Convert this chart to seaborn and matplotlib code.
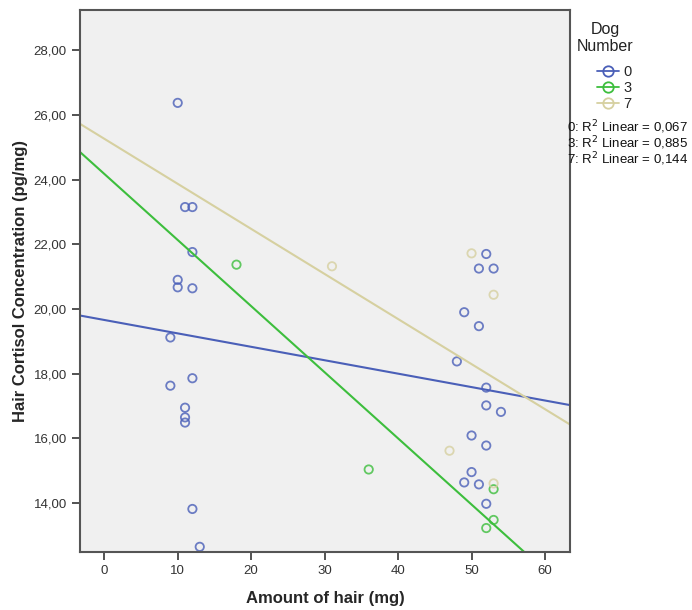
import numpy as np
import pandas as pd
import matplotlib
matplotlib.use('Agg')
import matplotlib.pyplot as plt
from matplotlib.lines import Line2D
import seaborn as sns

# Dane
dog_ids = ['0', '3', '7']
dog_colors = {'0': '#4A5FB8', '3': '#3DBE3D', '7': '#D6D0A0'}
r2_values = [0.067, 0.885, 0.144]

hair_0 = [10, 11, 12, 12, 10, 10, 12, 9, 9, 12, 11, 11, 11, 12, 13,
          52, 51, 53, 49, 51, 48, 52, 52, 54, 50, 52, 50, 49, 51, 52]
cort_0 = [26.37, 23.15, 23.15, 21.76, 20.90, 20.67, 20.64, 19.12, 17.63, 17.86,
          16.95, 16.65, 16.49, 13.82, 12.65,
          21.70, 21.25, 21.25, 19.90, 19.47, 18.38, 17.57, 17.02, 16.82, 16.09,
          15.78, 14.96, 14.64, 14.58, 13.98]
hair_3 = [18, 36, 53, 53, 52]
cort_3 = [21.37, 15.04, 14.43, 13.48, 13.23]
hair_7 = [50, 53, 31, 47, 53]
cort_7 = [21.72, 20.44, 21.32, 15.62, 14.61]

df = pd.DataFrame({
    'Hair': hair_0 + hair_3 + hair_7,
    'Cortisol': cort_0 + cort_3 + cort_7,
    'Dog': ['0'] * len(hair_0) + ['3'] * len(hair_3) + ['7'] * len(hair_7),
})

sns.set_style('white')
plt.rcParams['font.family'] = ['Liberation Sans', 'DejaVu Sans']

fig = plt.figure(figsize=(6.92, 6.10), dpi=100)
ax = fig.add_axes([80 / 692, 58 / 610, 490 / 692, 542 / 610])
ax.set_facecolor('#F0F0F0')
ax.set_xlim(-3.3, 63.4)
ax.set_ylim(12.49, 29.24)

for dog in dog_ids:
    sub = df[df['Dog'] == dog]
    c = dog_colors[dog]
    sns.regplot(data=sub, x='Hair', y='Cortisol', ax=ax, ci=None, truncate=False,
                marker='o',
                scatter_kws=dict(s=36, facecolors='none', edgecolors=c, linewidths=1.3),
                line_kws=dict(color=c, lw=1.5))

ax.set_xticks([0, 10, 20, 30, 40, 50, 60])
ax.set_yticks([14, 16, 18, 20, 22, 24, 26, 28])
ax.set_yticklabels([f'{v:.2f}'.replace('.', ',') for v in ax.get_yticks()])
ax.tick_params(axis='both', direction='out', length=6, width=1.3, color='#444444',
               labelsize=9.5, labelcolor='#333333', left=True, bottom=True)
for sp in ax.spines.values():
    sp.set_color('#555555')
    sp.set_linewidth(1.5)

ax.set_xlabel('Amount of hair (mg)', fontsize=12, fontweight='bold', labelpad=10)
ax.set_ylabel('Hair Cortisol Concentration (pg/mg)', fontsize=12, fontweight='bold',
              labelpad=4)

# tytuł legendy osobno
fig.text(605 / 692, 1 - 38 / 610, 'Dog\nNumber', ha='center', va='center',
         fontsize=11.5, linespacing=1.15, color='#222222')

handles = [Line2D([0], [0], color=dog_colors[d], lw=1.3, marker='o', markersize=7.5,
                  markerfacecolor='none', markeredgecolor=dog_colors[d],
                  markeredgewidth=1.3) for d in dog_ids]
leg = fig.legend(handles, dog_ids, loc='upper left',
                 bbox_to_anchor=(590 / 692, 1 - 58 / 610), frameon=False,
                 fontsize=10.5, handlelength=1.5,
                 handletextpad=0.3, labelspacing=0.12, borderpad=0)

for i, (dog, r2) in enumerate(zip(dog_ids, r2_values)):
    t = f'{dog}: R$^2$ Linear = {r2:.3f}'.replace('.', ',')
    fig.text(567 / 692, 1 - (127 + i * 16) / 610, t, fontsize=9.5, va='center',
             ha='left', color='#111111')

fig.savefig('out.png', dpi=100, facecolor='white')
